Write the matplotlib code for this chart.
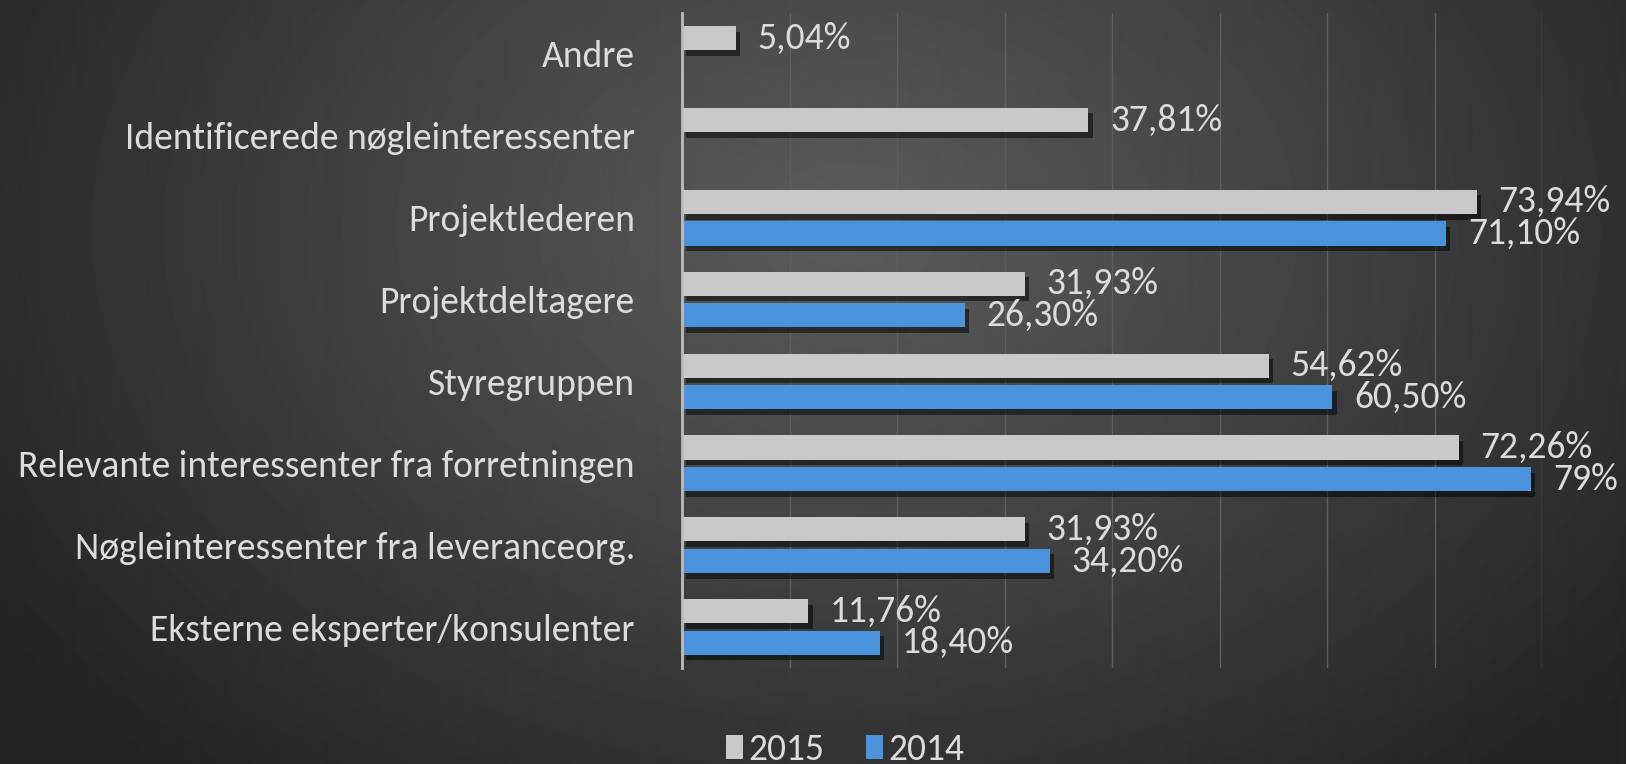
import numpy as np
import matplotlib
matplotlib.use("Agg")
import matplotlib.pyplot as plt
import matplotlib.patheffects as pe

categories = [
    "Andre",
    "Identificerede nøgleinteressenter",
    "Projektlederen",
    "Projektdeltagere",
    "Styregruppen",
    "Relevante interessenter fra forretningen",
    "Nøgleinteressenter fra leveranceorg.",
    "Eksterne eksperter/konsulenter",
]
values_2015 = [5.04, 37.81, 73.94, 31.93, 54.62, 72.26, 31.93, 11.76]
values_2014 = [None, None, 71.10, 26.30, 60.50, 79.00, 34.20, 18.40]
labels_2015 = ["5,04%", "37,81%", "73,94%", "31,93%", "54,62%", "72,26%", "31,93%", "11,76%"]
labels_2014 = [None, None, "71,10%", "26,30%", "60,50%", "79%", "34,20%", "18,40%"]
series_names = ["2015", "2014"]

GRAY = "#c9c9c9"
BLUE = "#4c93dd"
TEXT = "#dcdcdc"

plt.rcParams["font.family"] = ["Carlito", "Liberation Sans Narrow", "Lato", "DejaVu Sans"]

W, H = 1626, 764
fig = plt.figure(figsize=(W / 100, H / 100), dpi=100)

# radial dark-grey background
bg = fig.add_axes([0, 0, 1, 1])
yy, xx = np.mgrid[0:H, 0:W]
r = np.sqrt(((xx - 0.52 * W) / (0.62 * W)) ** 2 + ((yy - 0.3 * H) / (0.95 * H)) ** 2)
shade = np.clip(0.36 - 0.22 * r, 0.14, 0.36)
bg.imshow(shade, cmap="gray", vmin=0, vmax=1, aspect="auto", interpolation="bilinear")
bg.axis("off")

ax = fig.add_axes([682 / W, 1 - 668 / H, (1542 - 682) / W, (668 - 13) / H])
ax.patch.set_alpha(0)

y = np.arange(len(categories))
h = 0.295
off = 0.193
shadow = [pe.SimplePatchShadow(offset=(3, -4), shadow_rgbFace="black", alpha=0.5), pe.Normal()]

v15 = np.array(values_2015)
bars15 = ax.barh(y - off, v15, height=h, color=GRAY, label=series_names[0], zorder=3)
idx14 = [i for i, v in enumerate(values_2014) if v is not None]
v14 = np.array([values_2014[i] for i in idx14])
bars14 = ax.barh(y[idx14] + off, v14, height=h, color=BLUE, label=series_names[1], zorder=3)
for b in list(bars15) + list(bars14):
    b.set_path_effects(shadow)

fs = 27
for i, v in enumerate(values_2015):
    ax.text(v + 2.0, y[i] - off, labels_2015[i], color=TEXT, fontsize=fs,
            va="center", ha="left", zorder=4, clip_on=False)
for i in idx14:
    ax.text(values_2014[i] + 2.0, y[i] + off, labels_2014[i], color=TEXT, fontsize=fs,
            va="center", ha="left", zorder=4, clip_on=False)

ax.set_xlim(0, 80)
ax.set_ylim(len(categories) - 0.5, -0.5)
ax.set_xticks(np.arange(10, 81, 10))
ax.set_xticklabels([])
ax.tick_params(axis="x", length=0)
ax.grid(axis="x", color="#5e5e5e", linewidth=1, zorder=0)
ax.set_yticks(y)
ax.set_yticklabels(categories, color=TEXT, fontsize=fs)
ax.tick_params(axis="y", length=0, pad=34)
for s in ["top", "right", "bottom"]:
    ax.spines[s].set_visible(False)
ax.spines["left"].set_color("#bdbdbd")
ax.spines["left"].set_linewidth(2)
ax.spines["left"].set_zorder(5)

leg = fig.legend(handles=[bars15, bars14], labels=series_names, loc="center",
                 bbox_to_anchor=(845 / W, 1 - 750 / H), ncol=2, frameon=False,
                 fontsize=fs, handlelength=0.45, handleheight=0.6, handletextpad=0.15,
                 columnspacing=1.1, labelcolor=TEXT)
for hnd in leg.legend_handles:
    hnd.set_path_effects([])

fig.savefig("out.png", dpi=100, facecolor="#333333")
